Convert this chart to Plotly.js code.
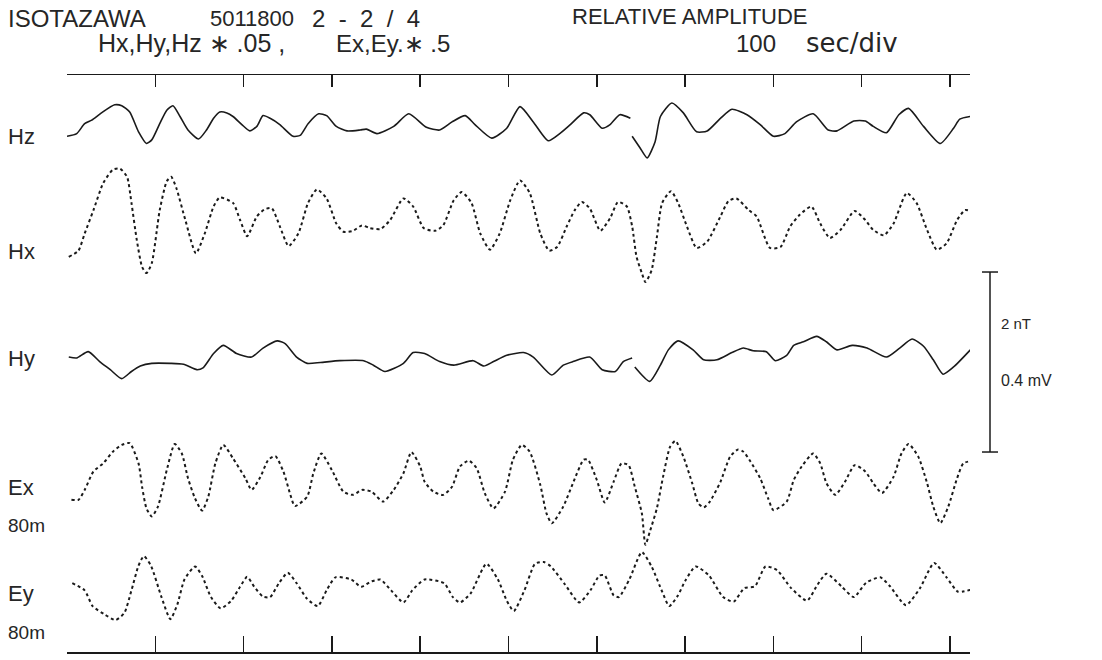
<!DOCTYPE html>
<html>
<head>
<meta charset="utf-8">
<script src="https://cdn.plot.ly/plotly-3.0.1.min.js"></script>
<style>html,body{margin:0;padding:0;background:#fff;}#chart{width:1102px;height:660px;}</style>
</head>
<body>
<div id="chart"></div>
<script>
// ---- time ticks (seconds), 100 sec/div ----
const tickSeconds = [0,100,200,300,400,500,600,700,800,900,1000];

// ---- Hz (nT) ----
const hzT = [0,11,20,28,39,54,62,71,81,90,96,105,113,120,128,137,149,158,166,173,181,188,198,207,215,222,230,241,256,264,273,285,294,305,317,332,339,351,370,387,407,422,436,451,462,481,498,513,528,545,558,570,585,592,606,615,626,638,null,640,649,657,666,672,685,698,713,725,740,753,770,785,800,813,826,845,862,872,891,904,913,928,942,953,970,989,1004,1011,1023];
const hzV = [-0.07,-0.04,0.07,0.11,0.19,0.28,0.27,0.20,-0.02,-0.15,-0.11,0.07,0.22,0.27,0.15,0.00,-0.10,0.00,0.13,0.20,0.19,0.15,0.06,-0.01,0.04,0.16,0.13,0.06,-0.07,-0.06,0.07,0.18,0.16,0.04,-0.01,0.00,0.01,-0.04,0.04,0.18,0.03,0.00,0.09,0.16,0.06,-0.09,0.02,0.26,0.09,-0.12,-0.04,0.06,0.19,0.17,0.02,0.06,0.17,0.13,null,-0.07,-0.20,-0.31,-0.13,0.15,0.30,0.19,-0.02,-0.01,0.13,0.23,0.17,0.06,-0.07,-0.04,0.09,0.18,0.00,-0.01,0.10,0.10,0.04,-0.03,0.17,0.24,0.04,-0.15,0.02,0.12,0.15];

// ---- Hx (nT) ----
const hxT = [2,13,20,30,41,52,60,68,73,79,85,90,96,105,113,118,124,134,146,156,166,173,188,196,204,215,224,232,241,251,262,273,283,294,305,313,324,334,343,355,366,381,392,404,417,426,438,447,458,468,479,490,502,513,524,536,546,555,566,575,583,592,604,615,624,634,640,645,651,655,662,668,674,684,692,702,713,725,740,749,758,772,781,796,808,819,830,843,853,864,876,892,904,913,925,936,951,962,974,985,996,1008,1017,1023];
const hxV = [-0.41,-0.34,-0.15,0.11,0.41,0.56,0.57,0.48,0.19,-0.22,-0.52,-0.59,-0.48,0.11,0.43,0.48,0.35,0.00,-0.37,-0.15,0.15,0.25,0.19,0.00,-0.18,0.04,0.12,0.13,-0.07,-0.29,-0.15,0.19,0.34,0.24,-0.04,-0.13,-0.12,-0.06,-0.09,-0.10,0.00,0.24,0.15,-0.09,-0.12,-0.06,0.22,0.31,0.19,-0.15,-0.33,-0.15,0.22,0.44,0.30,-0.15,-0.34,-0.30,-0.07,0.11,0.20,0.13,-0.12,0.02,0.20,0.15,-0.07,-0.41,-0.59,-0.69,-0.56,-0.19,0.19,0.32,0.19,-0.07,-0.31,-0.24,0.04,0.21,0.24,0.11,0.04,-0.31,-0.30,-0.07,0.06,0.15,-0.04,-0.20,-0.11,0.10,0.00,-0.11,-0.17,-0.04,0.30,0.19,-0.11,-0.33,-0.26,0.00,0.11,0.10];

// ---- Hy (nT) ----
const hyT = [2,11,24,37,49,62,73,83,96,117,132,147,154,166,177,192,209,222,238,247,260,272,287,309,336,347,360,381,392,405,422,438,460,472,483,498,517,528,549,562,573,592,606,621,630,640,null,643,660,672,681,692,709,721,736,753,766,777,792,802,815,823,834,849,860,872,889,906,928,943,957,970,981,992,1004,1023];
const hyV = [0.01,0.00,0.07,-0.04,-0.13,-0.23,-0.15,-0.09,-0.06,-0.06,-0.07,-0.13,-0.11,0.05,0.14,0.05,0.01,0.11,0.19,0.16,0.01,-0.06,-0.05,-0.03,-0.03,-0.08,-0.15,-0.06,0.06,0.05,-0.04,-0.08,-0.03,-0.09,-0.04,0.03,0.06,0.01,-0.19,-0.08,-0.04,0.01,-0.13,-0.15,-0.04,0.00,null,-0.10,-0.26,-0.08,0.09,0.19,0.09,-0.02,-0.02,0.06,0.11,0.08,0.07,-0.03,0.03,0.14,0.18,0.24,0.18,0.09,0.14,0.11,0.01,0.11,0.21,0.13,-0.02,-0.18,-0.10,0.09];

// ---- Ex, 80 m line (mV) ----
const exT = [5,13,20,30,41,52,62,71,81,85,90,96,103,113,122,130,137,145,153,160,168,177,188,202,209,219,228,236,245,253,258,272,279,288,300,313,324,334,345,358,370,381,390,400,405,415,426,436,445,455,464,473,483,496,505,515,524,536,543,549,562,573,585,590,600,609,619,628,636,643,651,655,660,668,675,683,689,698,708,715,721,728,740,751,760,766,774,785,794,800,815,823,832,845,853,860,870,881,892,904,913,923,936,945,953,964,974,981,989,998,1008,1015,1023];
const exV = [-0.033,-0.033,-0.011,0.030,0.048,0.074,0.089,0.093,0.048,-0.004,-0.052,-0.070,-0.048,0.033,0.091,0.070,0.015,-0.030,-0.057,-0.026,0.048,0.089,0.059,0.015,-0.011,0.018,0.056,0.064,0.030,-0.022,-0.047,-0.026,0.026,0.070,0.033,-0.015,-0.022,-0.011,-0.015,-0.037,-0.011,0.026,0.073,0.041,0.007,-0.015,-0.022,-0.004,0.041,0.054,0.037,-0.018,-0.052,-0.015,0.056,0.089,0.074,0.000,-0.063,-0.085,-0.048,0.004,0.056,0.056,0.011,-0.039,0.007,0.048,0.044,-0.004,-0.063,-0.133,-0.104,-0.052,0.018,0.085,0.098,0.063,0.004,-0.041,-0.050,-0.037,0.007,0.063,0.079,0.074,0.052,0.015,-0.030,-0.056,-0.037,0.011,0.041,0.070,0.048,0.004,-0.022,0.007,0.044,0.030,0.004,-0.018,0.018,0.070,0.091,0.063,0.004,-0.048,-0.085,-0.048,0.015,0.048,0.053];

// ---- Ey, 80 m line (mV) ----
const eyT = [6,20,29,43,55,65,73,81,87,95,107,117,125,133,145,153,163,174,186,196,204,212,222,230,240,250,260,272,284,294,304,322,333,345,355,367,381,391,405,427,437,445,457,475,488,498,506,518,530,540,548,564,580,593,603,609,619,625,637,651,662,674,682,692,700,712,727,743,755,767,779,791,804,820,838,850,860,877,891,905,921,932,950,966,982,996,1009,1023];
const eyV = [0.013,-0.003,-0.038,-0.057,-0.069,-0.053,-0.003,0.052,0.073,0.052,-0.018,-0.067,-0.034,0.021,0.050,0.029,-0.018,-0.043,-0.026,0.005,0.027,0.005,-0.017,-0.018,0.013,0.036,0.013,-0.022,-0.038,-0.003,0.026,0.021,0.005,0.017,0.021,-0.003,-0.030,-0.003,0.021,0.013,-0.018,-0.030,-0.010,0.056,0.021,-0.026,-0.049,-0.003,0.056,0.060,0.050,0.010,-0.030,-0.002,0.030,0.030,-0.014,-0.018,0.022,0.082,0.050,-0.006,-0.038,-0.014,0.018,0.050,0.030,-0.018,-0.028,0.002,0.006,0.050,0.042,0.002,-0.026,0.010,0.034,0.006,-0.018,0.014,0.026,0.006,-0.036,0.002,0.058,0.026,-0.006,-0.002];

// ---- labels ----
const channelNames = ['Hz','Hx','Hy','Ex','Ey'];
const dipoleLabel = '80m';
const scaleLabels = ['2 nT','0.4 mV'];
const SCALE_NT = 2;        // scale bar length in nT
const SCALE_MV = 0.4;      // same bar in mV

// ---- layout geometry (display) ----
const W = 1102, H = 660;
const ML = 67, MR = 132, MT = 75, MB = 8;
const PW = W - ML - MR, PH = H - MT - MB;
const X_MAX = 1022.6;
const PX_PER_NT = 90;
const Y_MAX = PH / PX_PER_NT;
const E_GAIN = SCALE_NT / SCALE_MV;   // mV -> display units
const baseline = {Hz:5.8, Hx:4.8, Hy:3.267, Ex:1.856, Ey:0.7};

function disp(vals, base, gain){ return vals.map(v => v === null ? null : base + v*gain); }
const px2x = px => (px - ML)/PW;
const px2y = py => (H - MB - py)/PH;

const ink = '#1a1a1a';
const textInk = '#262626';
function tr(t, v, name, dash, width, xa){
  return {x:t, y:v, name:name, type:'scatter', mode:'lines', xaxis:xa||'x', yaxis:'y',
    connectgaps:false, hoverinfo:'skip',
    line:{color:ink, width:width, dash:dash, shape:'spline', smoothing:0.6}};
}

const data = [
  tr(hzT, disp(hzV, baseline.Hz, 1), 'Hz', 'solid', 1.6, 'x2'),
  tr(hxT, disp(hxV, baseline.Hx, 1), 'Hx', 'dot', 2),
  tr(hyT, disp(hyV, baseline.Hy, 1), 'Hy', 'solid', 1.6),
  tr(exT, disp(exV, baseline.Ex, E_GAIN), 'Ex', 'dot', 2),
  tr(eyT, disp(eyV, baseline.Ey, E_GAIN), 'Ey', 'dot', 2)
];

const SANS = "'Liberation Sans', Arial, sans-serif";
const WIDE = "'DejaVu Sans', sans-serif";
function ann(text, xpx, ypx, size, family){
  return {text:text, xref:'paper', yref:'paper', x:px2x(xpx), y:px2y(ypx),
    xanchor:'left', yanchor:'middle', showarrow:false,
    font:{family:family||SANS, size:size, color:textInk}};
}

const barX = px2x(990), capL = px2x(982), capR = px2x(998);
const barBot = 2.222, barTop = barBot + SCALE_NT;
const shapes = [
  {type:'line', xref:'paper', yref:'paper', x0:barX, x1:barX, y0:barBot/Y_MAX, y1:barTop/Y_MAX, line:{color:ink, width:1.5}},
  {type:'line', xref:'paper', yref:'paper', x0:capL, x1:capR, y0:barTop/Y_MAX, y1:barTop/Y_MAX, line:{color:ink, width:1.5}},
  {type:'line', xref:'paper', yref:'paper', x0:capL, x1:capR, y0:barBot/Y_MAX, y1:barBot/Y_MAX, line:{color:ink, width:1.5}}
];

const annotations = [
  ann('ISOTAZAWA', 6, 19, 24),
  ann('5011800', 208, 19, 22),
  ann('2  -  2  /  4', 310, 19, 24),
  ann('RELATIVE AMPLITUDE', 570, 17, 22),
  ann('Hx,Hy,Hz \u2217 .05 ,', 96, 43, 25),
  ann('Ex,Ey.\u2217 .5', 334, 43, 24),
  ann('100', 734, 43, 24),
  ann('sec/div', 804, 43, 26, WIDE),
  ann(channelNames[0], 6, 136, 22),
  ann(channelNames[1], 6, 252, 22),
  ann(channelNames[2], 6, 358, 22),
  ann(channelNames[3], 6, 487, 22),
  ann(dipoleLabel, 6, 525, 19),
  ann(channelNames[4], 6, 593, 22),
  ann(dipoleLabel, 6, 632, 19),
  ann(scaleLabels[0], 999, 323, 15),
  ann(scaleLabels[1], 999, 380, 16)
];

const axisCommon = {range:[0, X_MAX], tickvals:tickSeconds, showticklabels:false, showgrid:false,
  zeroline:false, showline:true, linecolor:ink, linewidth:1.5, ticks:'inside', tickcolor:ink, tickwidth:1.5, fixedrange:true};

const layout = {
  width:W, height:H, margin:{l:ML, r:MR, t:MT, b:MB, pad:0},
  paper_bgcolor:'#ffffff', plot_bgcolor:'#ffffff', showlegend:false,
  xaxis:Object.assign({}, axisCommon, {side:'bottom', ticklen:16}),
  xaxis2:Object.assign({}, axisCommon, {side:'top', overlaying:'x', ticklen:12}),
  yaxis:{range:[0, Y_MAX], visible:false, fixedrange:true},
  shapes:shapes, annotations:annotations
};

Plotly.newPlot('chart', data, layout, {staticPlot:true, displayModeBar:false});
</script>
</body>
</html>
